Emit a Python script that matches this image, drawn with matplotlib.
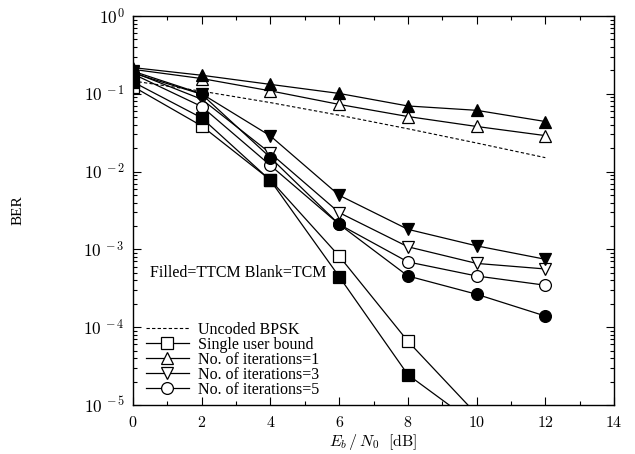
import numpy as np
import matplotlib
matplotlib.use('Agg')
import matplotlib.pyplot as plt
from matplotlib.ticker import MultipleLocator, FixedLocator, LogLocator, NullFormatter, FuncFormatter

plt.rcParams['font.family'] = ['Liberation Serif', 'DejaVu Serif']
plt.rcParams['mathtext.fontset'] = 'cm'

# -------------------------------------------------------------------
# Data
# -------------------------------------------------------------------
snr = [0, 2, 4, 6, 8, 10, 12]

bpsk = [0.146, 0.108, 0.077, 0.053, 0.0355, 0.0233, 0.0151]

# single user bound
sub_tcm = [0.124, 0.0386, 0.0078, 0.00082, 6.6e-5, 7.6e-6]
sub_ttcm = [0.142, 0.049, 0.0077, 0.000447, 2.45e-5, 5.5e-6]
snr_sub = [0, 2, 4, 6, 8, 10]

# iterations = 1
it1_tcm = [0.206, 0.157, 0.109, 0.073, 0.051, 0.038, 0.029]
it1_ttcm = [0.217, 0.173, 0.132, 0.101, 0.0697, 0.0613, 0.044]

# iterations = 3
it3_tcm = [0.19, 0.085, 0.0172, 0.00297, 0.00108, 0.00066, 0.00056]
it3_ttcm = [0.195, 0.1, 0.0287, 0.00496, 0.00181, 0.00111, 0.000746]

# iterations = 5
it5_tcm = [0.18, 0.0685, 0.012, 0.0021, 0.00069, 0.000455, 0.000346]
it5_ttcm = [0.185, 0.0986, 0.0151, 0.0021, 0.000455, 0.000265, 0.000139]

# -------------------------------------------------------------------
# Figure
# -------------------------------------------------------------------
fig = plt.figure(figsize=(6.35, 4.54), dpi=100)
ax = fig.add_axes([0.2094, 0.108, 0.7576, 0.8568])

ms = 8.5
lw = 0.9
common = dict(color='black', linewidth=lw, markersize=ms, markeredgewidth=0.9)

ax.plot(snr, bpsk, linestyle=(0, (3, 2)), color='black', linewidth=0.8,
        label='Uncoded BPSK')
ax.plot(snr_sub, sub_tcm, marker='s', markerfacecolor='white',
        label='Single user bound', **common)
ax.plot(snr, it1_tcm, marker='^', markerfacecolor='white',
        label='No. of iterations=1', **common)
ax.plot(snr, it3_tcm, marker='v', markerfacecolor='white',
        label='No. of iterations=3', **common)
ax.plot(snr, it5_tcm, marker='o', markerfacecolor='white',
        label='No. of iterations=5', **common)

ax.plot(snr_sub, sub_ttcm, marker='s', markerfacecolor='black', **common)
ax.plot(snr, it1_ttcm, marker='^', markerfacecolor='black', **common)
ax.plot(snr, it3_ttcm, marker='v', markerfacecolor='black', **common)
ax.plot(snr, it5_ttcm, marker='o', markerfacecolor='black', **common)

ax.set_yscale('log')
ax.set_xlim(0, 14)
ax.set_ylim(1e-5, 1)

ax.xaxis.set_major_locator(MultipleLocator(2))
ax.xaxis.set_minor_locator(MultipleLocator(1))
ax.xaxis.set_major_formatter(FuncFormatter(lambda v, p: f'${v:.0f}$'))
ax.yaxis.set_major_locator(FixedLocator([1e-5, 1e-4, 1e-3, 1e-2, 1e-1, 1e0]))
ax.yaxis.set_minor_locator(LogLocator(base=10, subs=np.arange(2, 10), numticks=10))
ax.yaxis.set_minor_formatter(NullFormatter())
ax.yaxis.set_major_formatter(
    FuncFormatter(lambda v, p: r'$10^{\,%d}$' % round(np.log10(v)) if v < 1 else r'$10^{0}$'))

ax.tick_params(which='both', direction='in', top=True, right=True, width=0.8)
ax.tick_params(axis='x', labelsize=11.5, pad=7)
ax.tick_params(axis='y', labelsize=12.5, pad=6)
ax.tick_params(which='major', length=6)
ax.tick_params(which='minor', length=3)
for s in ax.spines.values():
    s.set_linewidth(1.0)

fig.text(373 / 635, 2 / 454, r'$E_b\,/\,N_0\ \ [\mathrm{dB}]$', fontsize=11.5,
         ha='center', va='bottom')
fig.text(18 / 635, 1 - 210 / 454, 'BER', fontsize=11, rotation=90,
         ha='center', va='center')

ax.text(0.5, 4.9e-4, 'Filled=TTCM Blank=TCM', fontsize=11.5,
        ha='left', va='center')

ax.legend(loc='lower left', bbox_to_anchor=(0.0, -0.015), frameon=False,
          fontsize=11.5, handlelength=2.7, handletextpad=0.6,
          labelspacing=-0.06, borderaxespad=0.4)

fig.savefig('out.png', dpi=100)
